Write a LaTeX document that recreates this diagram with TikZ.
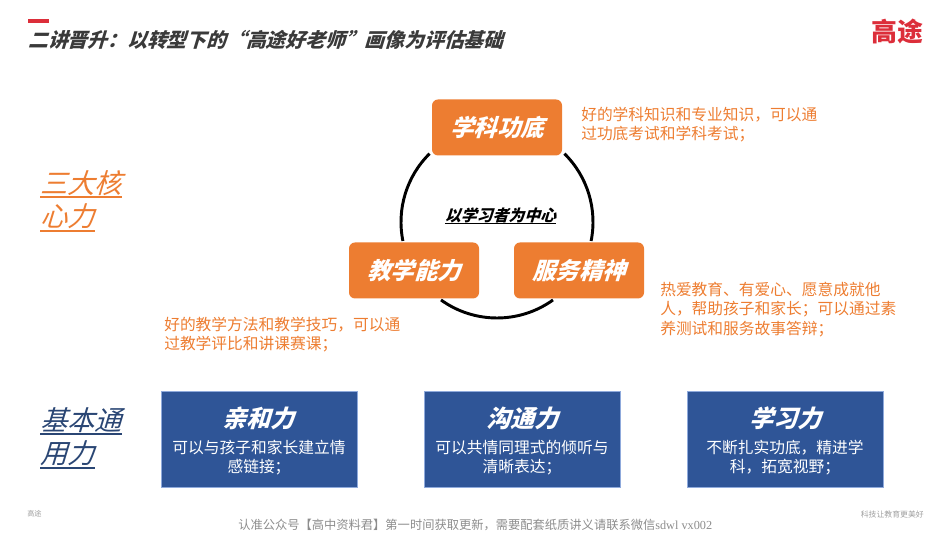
\documentclass[tikz,border=0pt]{standalone}
\usepackage{fontspec}
\setmainfont{Noto Sans CJK SC}
\newfontfamily\cjksl[FakeSlant=.3]{Noto Sans CJK SC}
\newfontfamily\wmlatin{Liberation Serif}
\definecolor{orangeA}{HTML}{ED7D31}
\definecolor{blueA}{HTML}{2F5597}
\definecolor{blueB}{HTML}{8FAADC}
\definecolor{navyA}{HTML}{2A4674}
\definecolor{redA}{HTML}{DC2E3A}
\definecolor{darkA}{HTML}{3A3A3A}
\newcommand{\uline}[2]{\setbox0\hbox{#2}\leavevmode\rlap{\rule[-.19em]{\wd0}{#1}}\box0}
\newcommand{\px}[2]{\fontsize{#1}{#2}\selectfont}
\tikzset{
  x=.75pt,y=.75pt,
  corebox/.style={rectangle,rounded corners=4.5pt,fill=orangeA,minimum width=97.5pt,minimum height=42pt,inner sep=0pt,
    text=white,font=\cjksl\bfseries\px{17.6pt}{20pt}},
  bluebox/.style={rectangle,fill=blueA,draw=blueB,line width=.6pt,minimum width=147pt,minimum height=72pt,inner sep=0pt},
  boxtitle/.style={inner sep=0pt,text=white,font=\cjksl\bfseries\px{18pt}{20pt}},
  boxbody/.style={inner sep=0pt,text=white,align=center,font=\px{11.8pt}{14.4pt}},
  note/.style={inner sep=0pt,anchor=west,align=left,text=orangeA,font=\px{11.8pt}{14.8pt}},
  sidelabel/.style={inner sep=0pt,anchor=west,align=left,font=\cjksl\px{20.4pt}{25pt}},
  ring/.style={line width=2.2pt,black},
}
\begin{document}
\begin{tikzpicture}
\useasboundingbox (0,0) rectangle (950,535);
% header
\fill[redA] (28,512) rectangle (49,515.5);
\node[inner sep=0pt,anchor=west,text=darkA,font=\cjksl\bfseries\px{14.85pt}{18pt}] (title) at (28,495) {二讲晋升：以转型下的“高途好老师”画像为评估基础};
\node[inner sep=0pt,text=redA,font=\bfseries\px{19.4pt}{22pt}] (logo) at (897.5,503) {高途};
% ring
\coordinate (ringc) at (497,313);
\draw[ring] (ringc) ++(45.4:96) arc (45.4:-11.4:96);
\draw[ring] (ringc) ++(134.6:96) arc (134.6:191.4:96);
\draw[ring] (ringc) ++(234.3:96) arc (234.3:305.7:96);
% core
\node[corebox] (xk) at (497,407.5) {学科功底};
\node[corebox] (jx) at (414,264.5) {教学能力};
\node[corebox] (fw) at (579,264.5) {服务精神};
\node[inner sep=0pt,font=\cjksl\bfseries\px{11.9pt}{14pt}] (ctr) at (500.5,319) {\uline{.9pt}{以学习者为中心}};
% notes
\node[note] (n1) at (581,410.5) {好的学科知识和专业知识，可以通\\过功底考试和学科考试；};
\node[note] (n2) at (164,200.5) {好的教学方法和教学技巧，可以通\\过教学评比和讲课赛课；};
\node[note] (n3) at (660,225.5) {热爱教育、有爱心、愿意成就他\\人，帮助孩子和家长；可以通过素\\养测试和服务故事答辩；};
% side labels
\node[sidelabel,text=orangeA] (s1) at (40,334) {\uline{1.5pt}{三大核}\\\uline{1.5pt}{心力}};
\node[sidelabel,text=navyA] (s2) at (40,97) {\uline{1.5pt}{基本通}\\\uline{1.5pt}{用力}};
% blue boxes
\node[bluebox] (b1) at (259,96) {};
\node[bluebox] (b2) at (522,96) {};
\node[bluebox] (b3) at (785,96) {};
\node[boxtitle] (t1) at (258.5,117) {亲和力};
\node[boxtitle] (t2) at (522.5,117) {沟通力};
\node[boxtitle] (t3) at (785.5,117) {学习力};
\node[boxbody] (c1) at (259,77.5) {可以与孩子和家长建立情\\感链接；};
\node[boxbody] (c2) at (522,77.5) {可以共情同理式的倾听与\\清晰表达；};
\node[boxbody] (c3) at (785,77.5) {不断扎实功底，精进学\\科，拓宽视野；};
% footer
\node[inner sep=0pt,anchor=west,text=gray!75,font=\px{5.4pt}{7pt}] (f1) at (27,21) {高途};
\node[inner sep=0pt,anchor=east,text=gray!75,font=\px{5.9pt}{7pt}] (f2) at (924,21) {科技让教育更美好};
\node[inner sep=0pt,anchor=west,text=gray!90,font=\px{9.2pt}{11pt}] (wm) at (238,10.5) {认准公众号【高中资料君】第一时间获取更新，需要配套纸质讲义请联系微信{\wmlatin sdwl vx002}};
\end{tikzpicture}
\end{document}
